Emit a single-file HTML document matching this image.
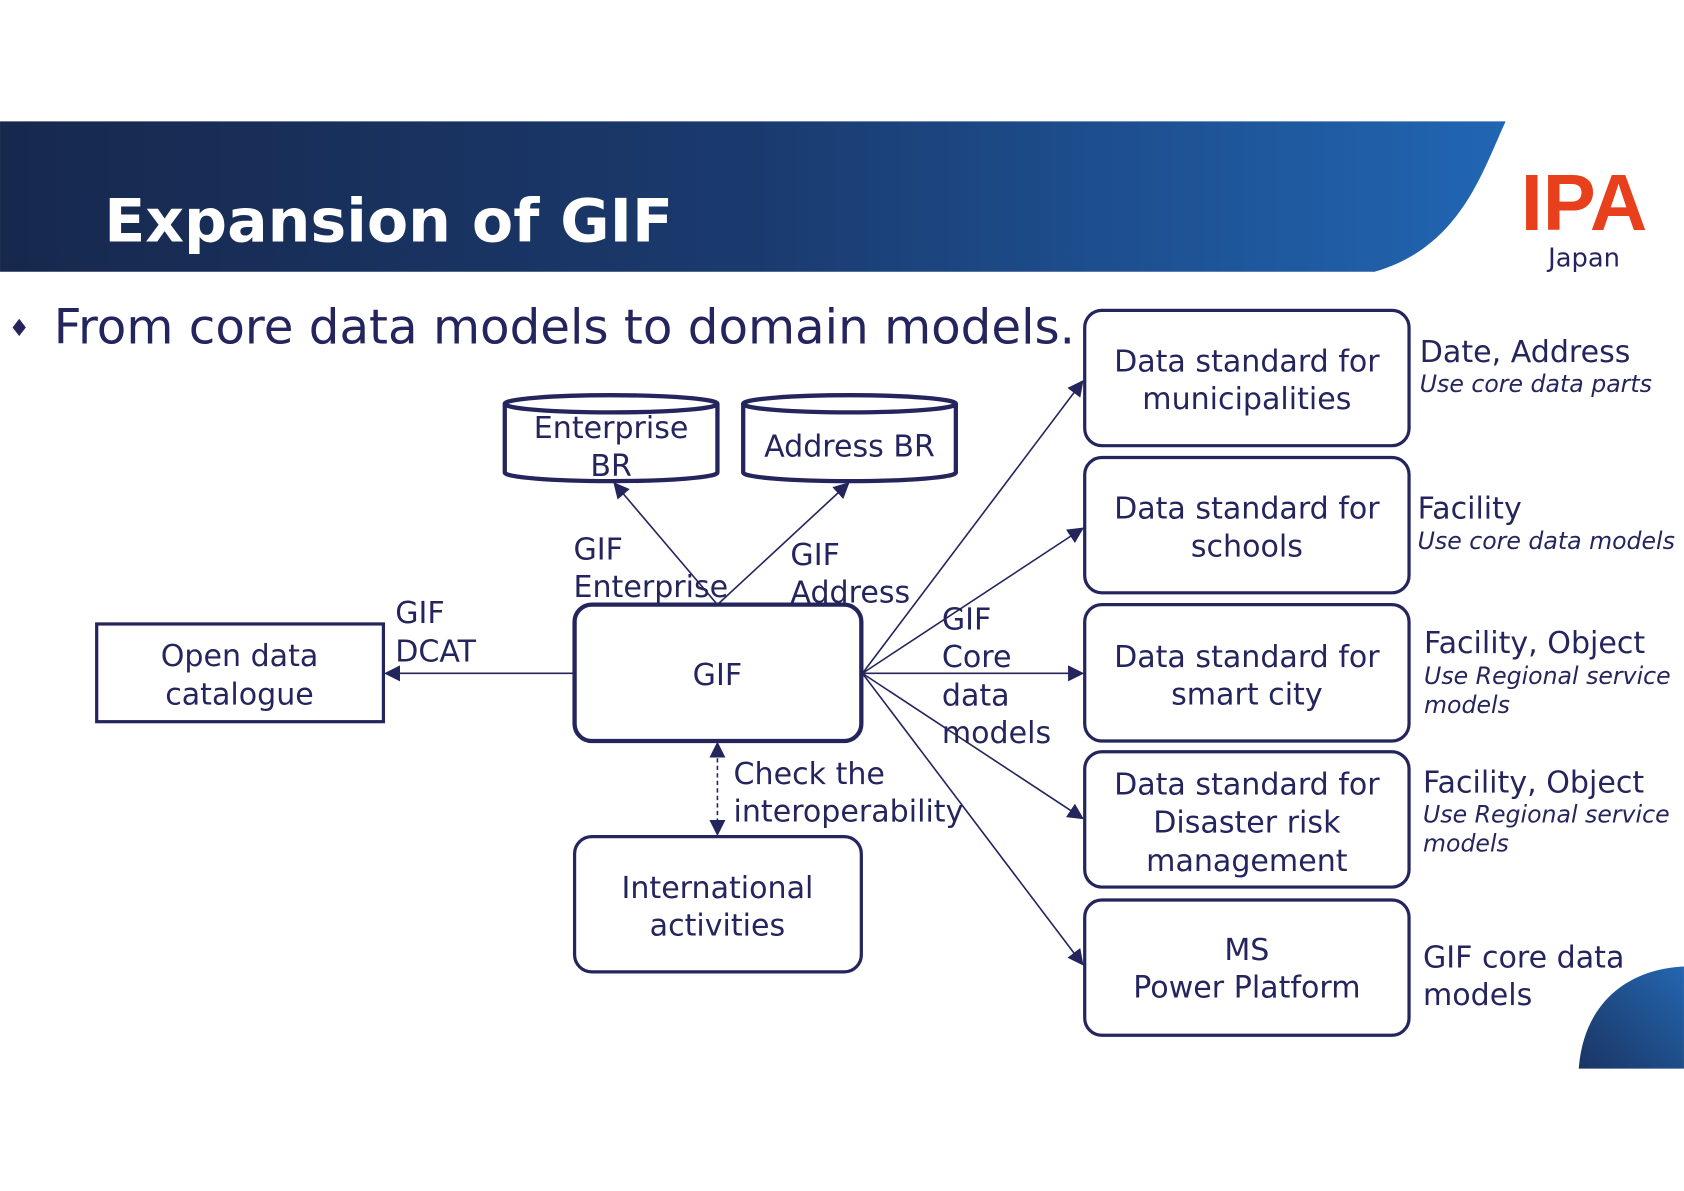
<!DOCTYPE html>
<html><head><meta charset="utf-8"><style>
html,body{margin:0;padding:0;background:#fff;}
svg{display:block;}
text{font-family:"DejaVu Sans","Liberation Sans",sans-serif;fill:#25255e;}
</style></head><body>
<svg width="1684" height="1191" viewBox="0 0 1568 1109" xmlns="http://www.w3.org/2000/svg">
<defs>
<linearGradient id="bg" x1="0" x2="1" y1="0" y2="0">
<stop offset="0" stop-color="#17284d"/><stop offset="0.5" stop-color="#1a3a6e"/><stop offset="1" stop-color="#2166b3"/>
</linearGradient>
<linearGradient id="bl" x1="0" x2="1" y1="1" y2="0">
<stop offset="0" stop-color="#1a3563"/><stop offset="1" stop-color="#2466b0"/>
</linearGradient>
<marker id="a" viewBox="0 0 10 10" refX="9" refY="5" markerUnits="userSpaceOnUse" markerWidth="15" markerHeight="15" orient="auto-start-reverse">
<path d="M0,0 L10,5 L0,10 z" fill="#25255e"/></marker>
</defs>
<path d="M0,113 L1402,113 C1380,160 1360,230 1280,253 L0,253 Z" fill="url(#bg)"/>
<text x="97" y="225" font-size="56" font-weight="bold" style="fill:#fff">Expansion of GIF</text>
<text x="1416" y="214" font-size="74" font-weight="bold" style="fill:#e8401c;font-family:'Liberation Sans',sans-serif">IPA</text>
<text x="1475" y="248" font-size="24" text-anchor="middle">Japan</text>
<path d="M1470,995 C1475,930 1520,902 1568,900 L1568,995 Z" fill="url(#bl)"/>
<text x="8" y="313" font-size="22">♦</text>
<text x="50" y="320" font-size="45">From core data models to domain models.</text>

<g fill="#fff" stroke="#25255e" stroke-width="4">
<path d="M470,376 L470,440 A99,8 0 0 0 668,440 L668,376"/>
<ellipse cx="569" cy="376" rx="99" ry="8"/>
<path d="M692,376 L692,440 A99,8 0 0 0 890,440 L890,376"/>
<ellipse cx="791" cy="376" rx="99" ry="8"/>
<rect x="535" y="563" width="267" height="127" rx="16"/>
<rect x="535" y="779" width="267" height="126" rx="16" stroke-width="3"/>
<rect x="90" y="581" width="267" height="91" stroke-width="3"/>
<rect x="1010" y="289" width="302" height="126" rx="16" stroke-width="3"/>
<rect x="1010" y="426" width="302" height="126" rx="16" stroke-width="3"/>
<rect x="1010" y="563" width="302" height="127" rx="16" stroke-width="3"/>
<rect x="1010" y="700" width="302" height="126" rx="16" stroke-width="3"/>
<rect x="1010" y="838" width="302" height="126" rx="16" stroke-width="3"/>
</g>
<g stroke="#25255e" stroke-width="1.5" fill="none" marker-end="url(#a)">
<line x1="668" y1="563" x2="572" y2="450"/>
<line x1="668" y1="563" x2="790" y2="450"/>
<line x1="535" y1="627" x2="359" y2="627"/>
<line x1="803" y1="627" x2="1008" y2="355"/>
<line x1="803" y1="627" x2="1008" y2="492"/>
<line x1="803" y1="627" x2="1008" y2="627"/>
<line x1="803" y1="627" x2="1008" y2="762"/>
<line x1="803" y1="627" x2="1008" y2="898"/>
<line x1="668" y1="692" x2="668" y2="777" stroke-dasharray="4,3" marker-start="url(#a)"/>
</g>
<g font-size="28">
<text x="569" y="408" text-anchor="middle">Enterprise</text>
<text x="569" y="443" text-anchor="middle">BR</text>
<text x="791" y="425" text-anchor="middle">Address BR</text>
<text x="668" y="638" text-anchor="middle">GIF</text>
<text x="668" y="836" text-anchor="middle">International</text>
<text x="668" y="871" text-anchor="middle">activities</text>
<text x="223" y="620" text-anchor="middle">Open data</text>
<text x="223" y="656" text-anchor="middle">catalogue</text>
<text x="534" y="521">GIF</text>
<text x="534" y="556">Enterprise</text>
<text x="736" y="526">GIF</text>
<text x="736" y="561">Address</text>
<text x="368" y="580">GIF</text>
<text x="368" y="616">DCAT</text>
<text x="877" y="586">GIF</text>
<text x="877" y="621">Core</text>
<text x="877" y="657">data</text>
<text x="877" y="692">models</text>
<text x="683" y="730">Check the</text>
<text x="683" y="765">interoperability</text>
<g text-anchor="middle">
<text x="1161" y="346">Data standard for</text>
<text x="1161" y="381">municipalities</text>
<text x="1161" y="483">Data standard for</text>
<text x="1161" y="518">schools</text>
<text x="1161" y="621">Data standard for</text>
<text x="1161" y="656">smart city</text>
<text x="1161" y="740">Data standard for</text>
<text x="1161" y="775">Disaster risk</text>
<text x="1161" y="811">management</text>
<text x="1161" y="894">MS</text>
<text x="1161" y="929">Power  Platform</text>
</g>
<text x="1322" y="337">Date, Address</text>
<text x="1320" y="483">Facility</text>
<text x="1326" y="608">Facility, Object</text>
<text x="1325" y="738">Facility, Object</text>
<text x="1325" y="901">GIF core data</text>
<text x="1325" y="936">models</text>
</g>
<g font-size="22" font-style="italic">
<text x="1322" y="365">Use core data parts</text>
<text x="1320" y="511">Use core data models</text>
<text x="1326" y="637">Use Regional service</text>
<text x="1326" y="664">models</text>
<text x="1325" y="766">Use Regional service</text>
<text x="1325" y="793">models</text>
</g>
</svg>
</body></html>
